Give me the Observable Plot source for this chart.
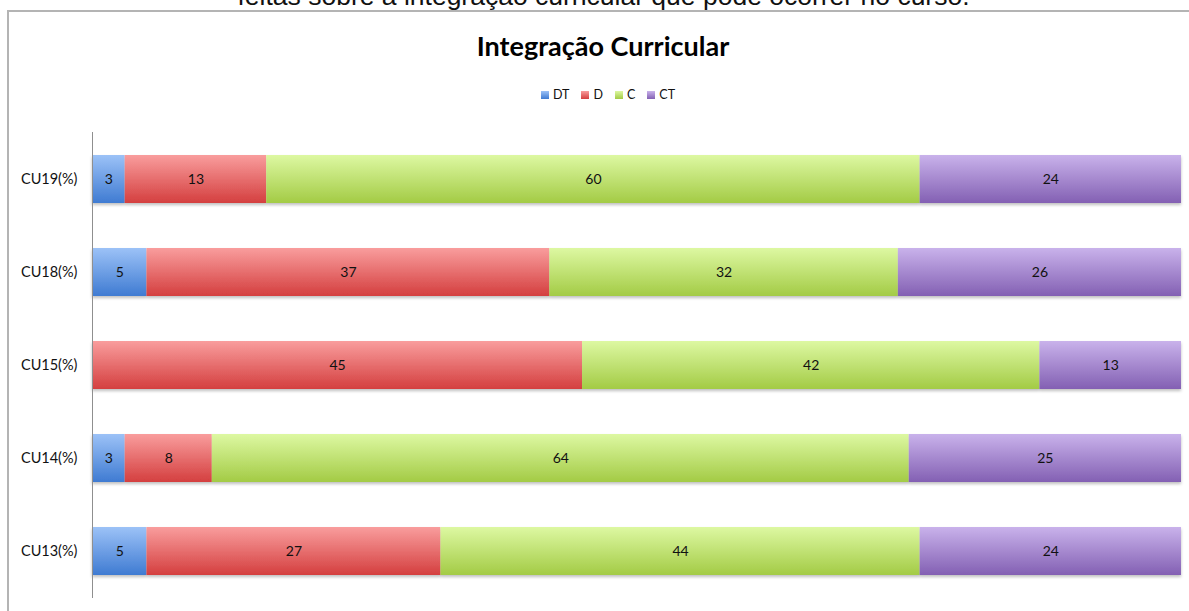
<!DOCTYPE html>
<html>
<head>
<meta charset="utf-8">
<script src="https://cdn.jsdelivr.net/npm/d3@7"></script>
<script src="https://cdn.jsdelivr.net/npm/@observablehq/plot@0.6"></script>
<style>
  html, body { margin: 0; padding: 0; background: #fff; }
  #wrap { position: relative; width: 1189px; height: 611px; overflow: hidden; background: #fff; }
  #cap { position: absolute; left: 0; width: 1207px; top: -17px; text-align: center; font-family: "Liberation Sans", Arial, sans-serif; font-size: 26.5px; line-height: 26px; color: #111; white-space: nowrap; }
  #frame { position: absolute; left: 7px; top: 10px; width: 1300px; height: 800px; border: 2px solid #b4b4b4; box-sizing: border-box; }
  #title { position: absolute; left: 0; width: 1206px; top: 31px; text-align: center; font-family: Lato, "Open Sans", sans-serif; font-weight: bold; font-size: 27px; line-height: 30px; color: #000; }
  #legend { position: absolute; left: 0; width: 1216px; top: 88px; display: flex; justify-content: center; font-family: Lato, "Open Sans", sans-serif; font-size: 12.5px; line-height: 14px; color: #111; }
  .li { display: flex; align-items: center; margin: 0 6px; }
  .sw { width: 8px; height: 8px; margin-right: 4px; }
  #chart { position: absolute; left: 0; top: 120px; }
</style>
</head>
<body>
<div id="wrap">
  <div id="cap">feitas sobre a integração curricular que pode ocorrer no curso.</div>
  <div id="frame"></div>
  <div id="title">Integração Curricular</div>
  <div id="legend"></div>
  <div id="chart"></div>
</div>
<script>
const categories = ["CU19(%)", "CU18(%)", "CU15(%)", "CU14(%)", "CU13(%)"];
const series = ["DT", "D", "C", "CT"];
const DT = [3, 5, 0, 3, 5];
const D  = [13, 37, 45, 8, 27];
const C  = [60, 32, 42, 64, 44];
const CT = [24, 26, 13, 25, 24];
const seriesValues = {DT, D, C, CT};
const gradTop    = {DT: "#9cc2f7", D: "#f99d9d", C: "#ddf8a2", CT: "#c9b2eb"};
const gradBottom = {DT: "#3f7bd2", D: "#d43f3f", C: "#a3cb45", CT: "#8360b3"};

const rows = categories.flatMap((cat, i) =>
  series.map(s => ({cat, series: s, value: seriesValues[s][i]}))
);

const svg = Plot.plot({
  width: 1189,
  height: 491,
  marginTop: 12,
  marginBottom: 13,
  marginLeft: 92,
  marginRight: 8,
  style: {fontFamily: "Lato, 'Open Sans', sans-serif", fontSize: "14.5px", color: "#111", background: "transparent"},
  x: {domain: [0, 100], axis: null},
  y: {domain: categories, paddingInner: 0.485, paddingOuter: 0.2425, label: null, tickSize: 0, tickPadding: 15},
  color: {type: "ordinal", domain: series, range: series.map(s => `url(#grad-${s})`)},
  marks: [
    Plot.barX(rows, {x: "value", y: "cat", fill: "series"}),
    Plot.text(rows, Plot.stackX({x: "value", y: "cat", z: "series", text: d => d.value ? String(d.value) : "", fontSize: 14, fill: "#111"})),
    Plot.ruleX([0], {stroke: "#8f8f8f", strokeWidth: 1})
  ]
});

const defs = d3.select(svg).insert("defs", ":first-child");
series.forEach(s => {
  const g = defs.append("linearGradient").attr("id", `grad-${s}`)
    .attr("x1", 0).attr("y1", 0).attr("x2", 0).attr("y2", 1);
  g.append("stop").attr("offset", "0%").attr("stop-color", gradTop[s]);
  g.append("stop").attr("offset", "100%").attr("stop-color", gradBottom[s]);
});
const f = defs.append("filter").attr("id", "shadow").attr("x", "-5%").attr("y", "-20%").attr("width", "110%").attr("height", "150%");
f.append("feDropShadow").attr("dx", 0).attr("dy", 2).attr("stdDeviation", 1.5).attr("flood-color", "#000").attr("flood-opacity", 0.25);
d3.select(svg).selectAll("g[aria-label='bar']").attr("filter", "url(#shadow)");

document.getElementById("chart").appendChild(svg);

const legend = d3.select("#legend");
series.forEach(s => {
  const item = legend.append("div").attr("class", "li");
  item.append("div").attr("class", "sw").style("background", `linear-gradient(${gradTop[s]}, ${gradBottom[s]})`);
  item.append("span").text(s);
});
</script>
</body>
</html>
